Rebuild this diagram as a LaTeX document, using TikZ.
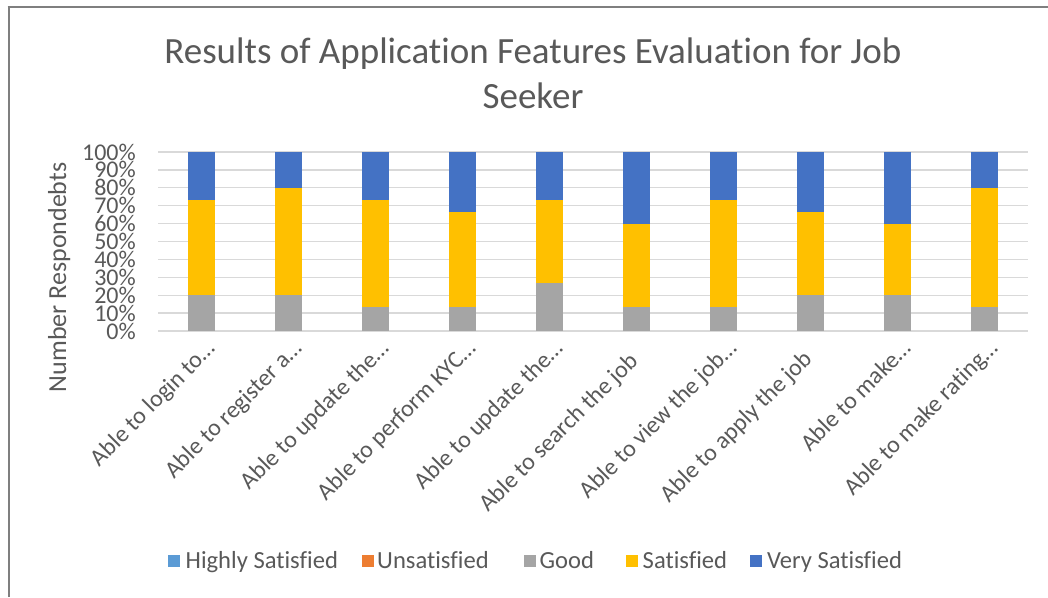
\documentclass[tikz,border=0pt]{standalone}
\usepackage{fontspec}
\setmainfont{Carlito}[Ligatures=NoCommon]
\definecolor{txt}{HTML}{595959}
\definecolor{gridc}{HTML}{D9D9D9}
\definecolor{cgood}{HTML}{A5A5A5}
\definecolor{csat}{HTML}{FFC000}
\definecolor{cvery}{HTML}{4472C4}
\definecolor{chigh}{HTML}{5B9BD5}
\definecolor{cuns}{HTML}{ED7D31}
\definecolor{framec}{HTML}{7F7F7F}
\tikzset{
  gridline/.style={draw=gridc, line width=1.3pt},
  ticklab/.style={text=txt, inner sep=0pt, font=\fontsize{24}{28}\selectfont},
  xlab/.style={text=txt, inner sep=0pt, rotate=45, anchor=base east, font=\fontsize{24}{28}\selectfont},
  legsq/.style={minimum size=12pt, inner sep=0pt, draw=none},
  legtxt/.style={text=txt, inner sep=0pt, anchor=base west, font=\fontsize{24.6}{28}\selectfont},
  titletxt/.style={text=txt, inner sep=0pt, font=\fontsize{37}{45}\selectfont},
  axtitle/.style={text=txt, inner sep=0pt, font=\fontsize{26}{30}\selectfont},
}
\begin{document}
\begin{tikzpicture}[x=1pt,y=-1pt]
\useasboundingbox (0,0) rectangle (1048,597);
\fill[white] (0,0) rectangle (1048,597);
% frame
\draw[framec, line width=2pt] (8.5,597) -- (8.5,6.4);
\draw[framec, line width=1.2pt] (7.5,7) -- (1048,7);
% title
\node[titletxt, anchor=base] (title1) at (533,63.3) {Results of Application Features Evaluation for Job};
\node[titletxt, anchor=base] (title2) at (533,108) {Seeker};
% gridlines and tick labels
\foreach \i in {0,...,10}{
  \pgfmathsetmacro{\yy}{331-17.9*\i}
  \pgfmathtruncatemacro{\pc}{10*\i}
  \draw[gridline] (158,\yy) -- (1028,\yy);
  \node[ticklab, anchor=east] (t\i) at (136,\yy) {\pc\%};
}
% bars: index / good / satisfied top
\foreach \i/\g/\s in {1/20/73.333, 2/20/80, 3/13.333/73.333, 4/13.333/66.667, 5/26.667/73.333, 6/13.333/60, 7/13.333/73.333, 8/20/66.667, 9/20/60, 10/13.333/80}{
  \pgfmathsetmacro{\cx}{158+87*(\i-0.5)}
  \pgfmathsetmacro{\yg}{331-1.79*\g}
  \pgfmathsetmacro{\ys}{331-1.79*\s}
  \fill[cgood] (\cx-13.5,331) rectangle (\cx+13.5,\yg);
  \fill[csat] (\cx-13.5,\yg) rectangle (\cx+13.5,\ys);
  \fill[cvery] (\cx-13.5,\ys) rectangle (\cx+13.5,152);
}
% axis title
\node[axtitle, rotate=90, anchor=base] (ytitle) at (66,277.4) {Number Respondebts};
% category labels
\node[xlab] (x1) at (216.5,350) {Able to login to…};
\node[xlab] (x2) at (303.5,350) {Able to register a…};
\node[xlab] (x3) at (390.5,350) {Able to update the…};
\node[xlab] (x4) at (477.5,350) {Able to perform KYC…};
\node[xlab] (x5) at (564.5,350) {Able to update the…};
\node[xlab] (x6) at (639.5,362) {Able to search the job};
\node[xlab] (x7) at (738.5,350) {Able to view the job…};
\node[xlab] (x8) at (813.5,360) {Able to apply the job};
\node[xlab] (x9) at (912.5,350) {Able to make…};
\node[xlab] (x10) at (999.5,350) {Able to make rating…};
% legend
\node[legsq, fill=chigh] (l1) at (174,561) {};
\node[legtxt] (l1t) at (185.5,568.7) {Highly Satisfied};
\node[legsq, fill=cuns] (l2) at (368,561) {};
\node[legtxt] (l2t) at (377,568.7) {Unsatisfied};
\node[legsq, fill=cgood] (l3) at (530,561) {};
\node[legtxt] (l3t) at (539.5,568.7) {Good};
\node[legsq, fill=csat] (l4) at (632,561) {};
\node[legtxt] (l4t) at (642.5,568.7) {Satisfied};
\node[legsq, fill=cvery] (l5) at (756,561) {};
\node[legtxt] (l5t) at (767,568.7) {Very Satisfied};
\end{tikzpicture}
\end{document}
